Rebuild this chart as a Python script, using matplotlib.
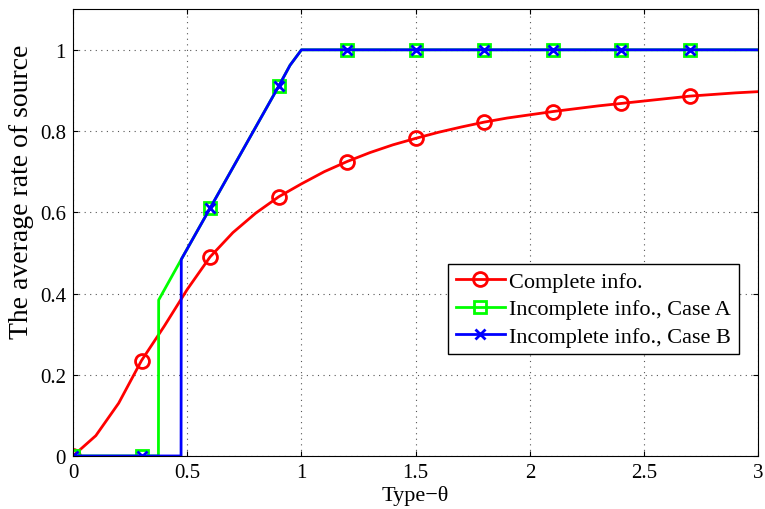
import matplotlib
matplotlib.use('Agg')
from matplotlib import pyplot as plt
import matplotlib as mpl

mpl.rc('font', family=['Liberation Serif', 'DejaVu Serif'], size=15)
mpl.rc('xtick', direction='in', top=True)
mpl.rc('ytick', direction='in', right=True)

# Complete info. (red)
theta_c = [0, 0.1, 0.2, 0.3, 0.4, 0.5, 0.6, 0.7, 0.8, 0.9, 1.0, 1.1, 1.2, 1.3, 1.4,
           1.5, 1.6, 1.7, 1.8, 1.9, 2.0, 2.1, 2.2, 2.3, 2.4, 2.5, 2.6, 2.7, 2.8, 2.9, 3.0]
rate_c = [0, 0.05, 0.13, 0.235, 0.32, 0.41, 0.49, 0.55, 0.598, 0.638, 0.670, 0.700, 0.725,
          0.747, 0.766, 0.782, 0.797, 0.810, 0.822, 0.832, 0.840, 0.848, 0.855, 0.862,
          0.868, 0.874, 0.880, 0.886, 0.890, 0.894, 0.897]

# Incomplete info., Case A (green)
theta_a = [0, 0.3, 0.374, 0.375, 0.47, 0.6, 0.7, 0.8, 0.9, 0.95, 1.0, 1.2, 1.5, 1.8, 2.1, 2.4, 2.7, 3.0]
rate_a = [0, 0, 0, 0.384, 0.48, 0.61, 0.71, 0.81, 0.91, 0.962, 1, 1, 1, 1, 1, 1, 1, 1]

# Incomplete info., Case B (blue)
theta_b = [0, 0.3, 0.473, 0.474, 0.6, 0.7, 0.8, 0.9, 0.95, 1.0, 1.2, 1.5, 1.8, 2.1, 2.4, 2.7, 3.0]
rate_b = [0, 0, 0, 0.484, 0.61, 0.71, 0.81, 0.91, 0.962, 1, 1, 1, 1, 1, 1, 1, 1]

mark_x = [0, 0.3, 0.6, 0.9, 1.2, 1.5, 1.8, 2.1, 2.4, 2.7]


def mark_idx(xs):
    return [i for i, x in enumerate(xs) if any(abs(x - m) < 1e-9 for m in mark_x)]


fig = plt.figure(figsize=(7.65, 5.1), dpi=100)
ax = fig.add_axes([0.0954, 0.104, 0.896, 0.876])

ax.plot(theta_c, rate_c, color='red', lw=2, marker='o', ms=10, mfc='none', mew=2,
        markevery=mark_idx(theta_c), label='Complete info.')
ax.plot(theta_a, rate_a, color='#00ff00', lw=2, marker='s', ms=9, mfc='none', mew=2,
        markevery=mark_idx(theta_a), label='Incomplete info., Case A')
ax.plot(theta_b, rate_b, color='blue', lw=2, marker='x', ms=7, mew=2,
        markevery=mark_idx(theta_b), label='Incomplete info., Case B')

ax.set_xlim(0, 3)
ax.set_ylim(0, 1.1)
ax.set_xticks([0, 0.5, 1, 1.5, 2, 2.5, 3])
ax.set_xticklabels(['0', '0.5', '1', '1.5', '2', '2.5', '3'])
ax.set_yticks([0, 0.2, 0.4, 0.6, 0.8, 1])
ax.set_yticklabels(['0', '0.2', '0.4', '0.6', '0.8', '1'])
ax.tick_params(pad=5)
ax.grid(True, linestyle=(0, (1, 4)), color='#555555', lw=0.8)
ax.set_xlabel('Type\u2212\u03b8', fontsize=16, labelpad=2)
ax.set_ylabel('The average rate of source', fontsize=20)
ax.yaxis.set_label_coords(-0.057, 0.593)

leg = ax.legend(loc='upper left', bbox_to_anchor=(0.547, 0.43), fontsize=16,
                fancybox=False, edgecolor='black', framealpha=1, handlelength=2.2,
                borderpad=0.35, labelspacing=0.3, handletextpad=0.2, borderaxespad=0)
leg.get_frame().set_linewidth(1)

fig.savefig('out.png', dpi=100)
